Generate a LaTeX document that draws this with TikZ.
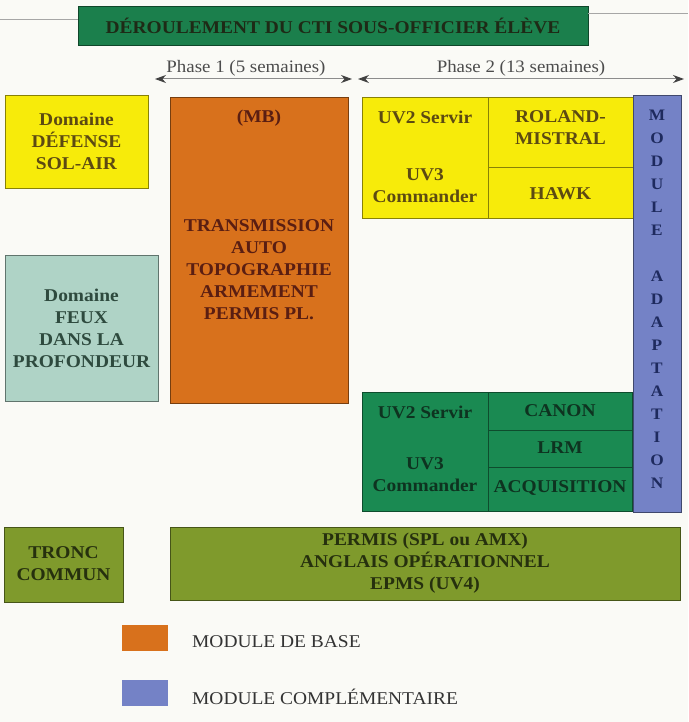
\documentclass[tikz,border=0pt]{standalone}
\usepackage{fontspec}
\setmainfont{Liberation Serif}[FakeStretch=1.08]
\usetikzlibrary{arrows.meta}
\definecolor{bg}{HTML}{FAFAF6}
\definecolor{titlegreen}{HTML}{1B7F4C}
\definecolor{titletext}{HTML}{1E2A16}
\definecolor{ylw}{HTML}{F7EB0A}
\definecolor{ylwtext}{HTML}{5C4A12}
\definecolor{org}{HTML}{D8711C}
\definecolor{orgtext}{HTML}{5A1E12}
\definecolor{sage}{HTML}{AFD3C6}
\definecolor{sagetext}{HTML}{2E4A3E}
\definecolor{grn}{HTML}{1A8A52}
\definecolor{grntext}{HTML}{0E3320}
\definecolor{blu}{HTML}{7482C6}
\definecolor{blutext}{HTML}{1E2A5E}
\definecolor{olv}{HTML}{7F9A2C}
\definecolor{olvtext}{HTML}{26300E}
\tikzset{
  panel/.style={rectangle, inner sep=0pt, outer sep=0pt, line width=0.8pt, fill=#1, draw=#1!55!black},
  lbl/.style={align=center, inner sep=0pt, text=#1, font=\bfseries\fontsize{18}{22}\selectfont},
  legtext/.style={anchor=west, inner sep=0pt, text=black!80, font=\fontsize{18}{22}\selectfont},
  phasetext/.style={inner sep=0pt, text=black!70, font=\fontsize{17.5}{20}\selectfont},
  phasearrow/.style={draw=black!45, line width=1pt,
    arrows={Stealth[length=11pt,width=8pt,color=black!75]-Stealth[length=11pt,width=8pt,color=black!75]}},
}
\begin{document}
\begin{tikzpicture}[x=1pt,y=-1pt]
\fill[bg] (0,0) rectangle (688,722);
\useasboundingbox (0,0) rectangle (688,722);

% title
\node[panel=titlegreen, minimum width=510, minimum height=39] (title) at (333,25.5) {};
\draw[black!35, line width=1pt] (0,20) -- (title.west |- 0,20);
\draw[black!35, line width=1pt] (title.east |- 0,14) -- (688,14);
\node[lbl=titletext, font=\bfseries\fontsize{18}{20}\selectfont] (titletxt) at (333,26) {DÉROULEMENT DU CTI SOUS-OFFICIER ÉLÈVE};

% phases
\coordinate (p1l) at (155,79);
\coordinate (p1r) at (352,79);
\coordinate (p2l) at (358,79);
\coordinate (p2r) at (684,79);
\draw[phasearrow] (p1l) -- (p1r);
\draw[phasearrow] (p2l) -- (p2r);
\node[phasetext] (ph1) at (246,68) {Phase 1 (5 semaines)};
\node[phasetext] (ph2) at (521,68) {Phase 2 (13 semaines)};

% left domain boxes
\node[panel=ylw, minimum width=143, minimum height=93] (defense) at (76.5,141.5) {};
\node[lbl=ylwtext] (defensetxt) at (76.5,141) {Domaine\\DÉFENSE\\SOL-AIR};
\node[panel=sage, minimum width=153, minimum height=146] (feux) at (81.5,328) {};
\node[lbl=sagetext] (feuxtxt) at (81.5,328) {Domaine\\FEUX\\DANS LA\\PROFONDEUR};

% module de base
\node[panel=org, minimum width=178, minimum height=306] (mb) at (259,250) {};
\node[lbl=orgtext] (mbtitle) at (259,118) {(MB)};
\node[lbl=orgtext] (mbtxt) at (259,270) {TRANSMISSION\\AUTO\\TOPOGRAPHIE\\ARMEMENT\\PERMIS PL.};

% phase 2 yellow
\node[panel=ylw, minimum width=126, minimum height=121] (yuv) at (425,157.5) {};
\node[panel=ylw, minimum width=145, minimum height=70] (roland) at (560.5,132) {};
\node[panel=ylw, minimum width=145, minimum height=51] (hawk) at (560.5,192.5) {};
\node[lbl=ylwtext] (yuv2) at (425,117) {UV2 Servir};
\node[lbl=ylwtext] (yuv3) at (425,186) {UV3\\Commander};
\node[lbl=ylwtext] (rolandtxt) at (560.5,128) {ROLAND-\\MISTRAL};
\node[lbl=ylwtext] (hawktxt) at (560.5,194) {HAWK};

% phase 2 green
\node[panel=grn, minimum width=126, minimum height=119] (guv) at (425,451.5) {};
\node[panel=grn, minimum width=144, minimum height=38] (canon) at (560,411) {};
\node[panel=grn, minimum width=144, minimum height=37] (lrm) at (560,448.5) {};
\node[panel=grn, minimum width=144, minimum height=44] (acq) at (560,489) {};
\node[lbl=grntext] (guv2) at (425,412) {UV2 Servir};
\node[lbl=grntext] (guv3) at (425,475) {UV3\\Commander};
\node[lbl=grntext] (canontxt) at (560,411) {CANON};
\node[lbl=grntext] (lrmtxt) at (560,448) {LRM};
\node[lbl=grntext] (acqtxt) at (560,488) {ACQUISITION};

% module adaptation
\node[panel=blu, minimum width=48, minimum height=417] (adapt) at (657,303.5) {};
\node[lbl=blutext, font=\bfseries\fontsize{16}{23}\selectfont] (adapttxt) at (657,299)
  {M\\O\\D\\U\\L\\E\\\strut\\A\\D\\A\\P\\T\\A\\T\\I\\O\\N};

% bottom
\node[panel=olv, minimum width=119, minimum height=75] (tronc) at (63.5,564.5) {};
\node[lbl=olvtext] (tronctxt) at (63.5,564) {TRONC\\COMMUN};
\node[panel=olv, minimum width=510, minimum height=73] (permis) at (425,563.5) {};
\node[lbl=olvtext] (permistxt) at (425,563) {PERMIS (SPL ou AMX)\\ANGLAIS OPÉRATIONNEL\\EPMS (UV4)};

% legend
\node[panel=org, draw=none, minimum width=46, minimum height=26] (leg1) at (145,638) {};
\node[legtext] (leg1txt) at (192,642) {MODULE DE BASE};
\node[panel=blu, draw=none, minimum width=46, minimum height=26] (leg2) at (145,693) {};
\node[legtext] (leg2txt) at (192,697) {MODULE COMPLÉMENTAIRE};
\end{tikzpicture}
\end{document}
